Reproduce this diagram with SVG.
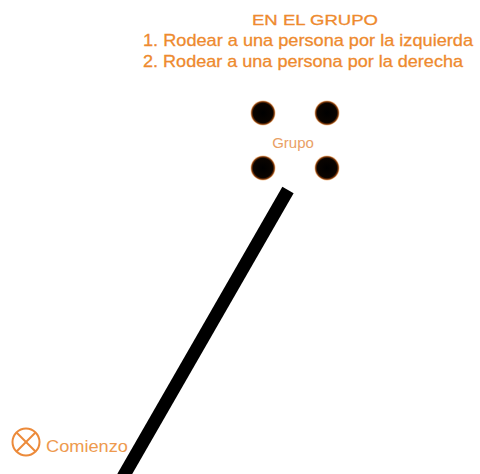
<svg xmlns="http://www.w3.org/2000/svg" width="480" height="474" viewBox="0 0 480 474">
  <defs>
    <radialGradient id="dotGrad" cx="0.5" cy="0.5" r="0.5">
      <stop offset="0" stop-color="#000"/>
      <stop offset="0.78" stop-color="#0a0400"/>
      <stop offset="0.9" stop-color="#7a3508"/>
      <stop offset="1" stop-color="#f2a45a" stop-opacity="0.6"/>
    </radialGradient>
  </defs>
  <style>
    .title { font-family: "Liberation Sans", Arial, sans-serif; fill: #EE8A2E; stroke: #EE8A2E; stroke-width: 0.3; }
    .grupo { font-family: "Liberation Sans", Arial, sans-serif; font-size: 15px; fill: #E9A065; }
    .start { font-family: "Liberation Sans", Arial, sans-serif; font-size: 17px; fill: #EE9A4E; }
    .dot { fill: url(#dotGrad); }
    .mark { fill: none; stroke: #EC8A3A; stroke-width: 2; }
    .path { stroke: #000; stroke-width: 13; stroke-linecap: butt; }
  </style>
  <rect width="480" height="474" fill="#fff"/>

  <g id="instructions">
    <text class="title" x="315" y="25" font-size="15" text-anchor="middle" textLength="126" lengthAdjust="spacingAndGlyphs">EN EL GRUPO</text>
    <text class="title" x="143" y="46" font-size="17" textLength="330" lengthAdjust="spacingAndGlyphs">1. Rodear a una persona por la izquierda</text>
    <text class="title" x="143" y="67" font-size="17" textLength="320" lengthAdjust="spacingAndGlyphs">2. Rodear a una persona por la derecha</text>
  </g>

  <g id="grupo">
    <circle class="dot" cx="263" cy="113" r="12.5"/>
    <circle class="dot" cx="327" cy="113" r="12.5"/>
    <circle class="dot" cx="263" cy="168" r="12.5"/>
    <circle class="dot" cx="327" cy="168" r="12.5"/>
    <text class="grupo" x="293" y="148" text-anchor="middle">Grupo</text>
  </g>

  <g id="comienzo">
    <circle class="mark" cx="26" cy="442" r="13.5"/>
    <line class="mark" x1="16.5" y1="432.5" x2="35.5" y2="451.5"/>
    <line class="mark" x1="35.5" y1="432.5" x2="16.5" y2="451.5"/>
    <text class="start" x="46" y="452" textLength="82" lengthAdjust="spacingAndGlyphs">Comienzo</text>
  </g>

  <g id="connectors">
    <line class="path" x1="288" y1="190" x2="123" y2="477"/>
  </g>
</svg>
